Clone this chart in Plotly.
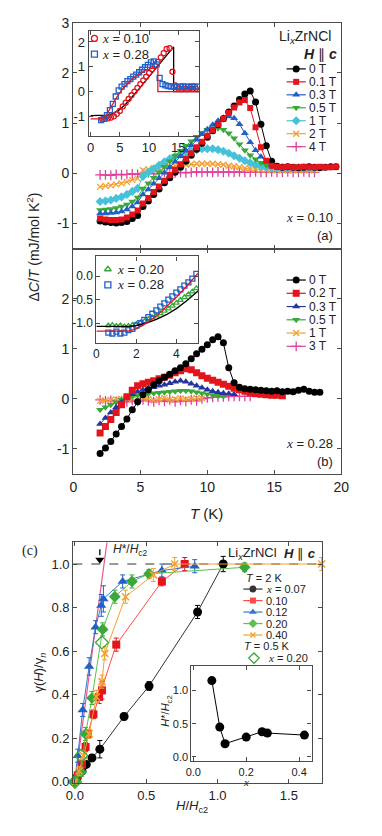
import plotly.graph_objects as go

W, H = 382, 836
SANS = "Liberation Sans, Arial, sans-serif"
SERIF = "Liberation Serif"
INK = "#222222"
FRAME = "#4a4a4a"

C_BLK = "#000000"
C_RED = "#e3141c"
C_BLU = "#2060c8"
C_NAVY = "#26359e"
C_GRN = "#38a838"
C_CYA = "#45c2da"
C_ORA = "#f4a030"
C_MAG = "#e0409c"
C_PINK = "#ea5a80"

# ---------------- panel (a): x = 0.10, dC/T vs T (K)
T_A = [2.0, 2.4, 2.8, 3.2, 3.6, 4.0, 4.4, 4.8, 5.2, 5.6, 6.0, 6.4, 6.8, 7.2, 7.6,
       8.0, 8.4, 8.8, 9.2, 9.6, 10.0, 10.4, 10.8, 11.2, 11.6, 12.0, 12.4, 12.8,
       13.2, 13.6, 14.0, 14.4, 14.8, 15.2, 15.6, 16.0, 16.4, 16.8, 17.2, 17.6,
       18.0, 18.4, 18.8, 19.2, 19.6]
A_0T = [-0.95, -0.97, -0.98, -0.99, -0.98, -0.96, -0.90, -0.84, -0.66, -0.55,
        -0.42, -0.31, -0.19, -0.09, 0.02, 0.12, 0.24, 0.36, 0.48, 0.60,
        0.72, 0.85, 0.97, 1.09, 1.22, 1.34, 1.47, 1.58, 1.64, 1.42,
        0.98, 0.55, 0.24, 0.14, 0.12, 0.13, 0.12, 0.11, 0.12, 0.13,
        0.12, 0.11, 0.12, 0.13, 0.13]
A_01T = [-0.90, -0.92, -0.93, -0.93, -0.92, -0.88, -0.82, -0.74, -0.60, -0.49,
         -0.37, -0.26, -0.15, -0.04, 0.07, 0.18, 0.29, 0.40, 0.52, 0.63,
         0.75, 0.86, 0.98, 1.09, 1.20, 1.31, 1.41, 1.46, 1.30, 0.92,
         0.52, 0.25, 0.15, 0.13, 0.12, 0.13, 0.12, 0.12, 0.13, 0.12,
         0.12, 0.13, 0.12, 0.12, 0.13]
A_03T = [-0.80, -0.80, -0.79, -0.78, -0.76, -0.72, -0.66, -0.58, -0.42, -0.32,
         -0.21, -0.10, 0.01, 0.12, 0.23, 0.34, 0.45, 0.56, 0.67, 0.78,
         0.88, 0.97, 1.05, 1.11, 1.13, 1.10, 0.98, 0.80, 0.62, 0.46,
         0.33, 0.23, 0.17, 0.14, 0.13, 0.12, 0.12, 0.13, 0.12, 0.12, 0.12]
A_05T = [-0.73, -0.72, -0.71, -0.69, -0.66, -0.62, -0.56, -0.48, -0.30, -0.20,
         -0.09, 0.02, 0.13, 0.24, 0.35, 0.45, 0.55, 0.64, 0.73, 0.81,
         0.87, 0.90, 0.90, 0.87, 0.80, 0.70, 0.58, 0.46, 0.36, 0.28,
         0.21, 0.16, 0.14, 0.13, 0.12, 0.12, 0.12, 0.12, 0.12, 0.12, 0.12]
A_1T = [-0.56, -0.55, -0.53, -0.50, -0.47, -0.42, -0.36, -0.30, -0.06, 0.02,
        0.09, 0.16, 0.23, 0.29, 0.34, 0.38, 0.42, 0.45, 0.47, 0.49,
        0.49, 0.49, 0.47, 0.44, 0.40, 0.35, 0.30, 0.25, 0.21, 0.17,
        0.14, 0.12, 0.11, 0.10, 0.10, 0.10, 0.10, 0.10, 0.10, 0.10, 0.10]
A_2T = [-0.27, -0.25, -0.24, -0.22, -0.20, -0.17, -0.13, -0.10, 0.06, 0.08,
        0.10, 0.11, 0.12, 0.13, 0.15, 0.16, 0.17, 0.18, 0.19, 0.19,
        0.19, 0.19, 0.18, 0.17, 0.15, 0.14, 0.12, 0.10, 0.09, 0.08,
        0.07, 0.07, 0.06, 0.06, 0.06, 0.06, 0.06, 0.06, 0.06, 0.06, 0.06]
A_4T = [-0.03, -0.03, -0.04, -0.02, -0.03, -0.02, -0.01, -0.02, 0.00, 0.01,
        -0.01, 0.00, 0.02, 0.00, 0.01, 0.02, 0.01, 0.02, 0.03, 0.02,
        0.03, 0.02, 0.03, 0.02, 0.03, 0.02, 0.03, 0.02, 0.02, 0.03,
        0.02, 0.02, 0.03, 0.02, 0.02, 0.03, 0.02, 0.02, 0.03, 0.02, 0.02]

# inset (a): zero-field data of two samples with fits
TI_A10 = [2.0, 2.5, 3.0, 3.5, 4.0, 4.5, 5.0, 5.5, 6.0, 6.5, 7.0, 7.5, 8.0, 8.5,
          9.0, 9.5, 10.0, 10.5, 11.0, 11.5, 12.0, 12.5, 13.0, 13.5, 14.0, 14.5,
          15.0, 15.5, 16.0, 16.5, 17.0, 17.5, 18.0]
I_A10 = [-1.12, -1.10, -1.08, -1.05, -1.00, -0.90, -0.78, -0.60, -0.45, -0.30,
         -0.15, 0.00, 0.15, 0.30, 0.45, 0.60, 0.75, 0.90, 1.05, 1.20,
         1.38, 1.55, 1.72, 1.75, 0.80, 0.25, 0.12, 0.10, 0.11, 0.10,
         0.12, 0.11, 0.12]
TI_A28 = [1.8, 2.3, 2.8, 3.3, 3.8, 4.3, 4.8, 5.3, 5.8, 6.3, 6.8, 7.3, 7.8, 8.3,
          8.8, 9.3, 9.8, 10.3, 10.8, 11.3, 11.8, 12.3, 12.8, 13.3, 13.8, 14.3,
          14.8, 15.3, 15.8, 16.3, 16.8, 17.3, 17.8, 18.3]
I_A28 = [-1.15, -1.10, -0.95, -0.75, -0.50, -0.20, 0.05, 0.20, 0.30, 0.42,
         0.50, 0.60, 0.68, 0.78, 0.88, 0.98, 1.08, 1.18, 1.22, 1.10,
         0.55, 0.30, 0.25, 0.22, 0.20, 0.21, 0.19, 0.20, 0.21, 0.20,
         0.19, 0.21, 0.20, 0.20]
FIT_A_BLK_T = [0.0, 2.0, 2.9, 3.9, 4.9, 5.9, 6.9, 7.9, 9.0, 10.0, 11.1, 12.2, 13.2, 14.2, 14.2, 18.6]
FIT_A_BLK_Y = [-0.97, -0.97, -0.95, -0.88, -0.74, -0.53, -0.28, 0.0, 0.32, 0.60, 0.91, 1.23, 1.51, 1.80, 0.0, 0.0]
FIT_A_RED_T = [0.0, 1.8, 2.5, 3.5, 4.5, 5.5, 6.5, 7.5, 8.5, 9.5, 10.5, 11.5, 11.5, 18.6]
FIT_A_RED_Y = [-1.10, -1.10, -1.02, -0.62, -0.22, 0.12, 0.38, 0.58, 0.74, 0.86, 0.94, 0.98, 0.0, 0.0]

# ---------------- panel (b): x = 0.28
T_B = T_A[:42]
B_0T = [-1.09, -0.98, -0.85, -0.70, -0.55, -0.40, -0.22, -0.06, 0.08, 0.18,
        0.28, 0.36, 0.43, 0.49, 0.56, 0.62, 0.70, 0.80, 0.90, 0.99,
        1.08, 1.18, 1.24, 1.12, 0.62, 0.32, 0.23, 0.20, 0.19, 0.18,
        0.17, 0.16, 0.15, 0.16, 0.14, 0.15, 0.14, 0.17, 0.19, 0.15,
        0.13, 0.13]
B_02T = [-0.68, -0.55, -0.41, -0.27, -0.12, 0.04, 0.17, 0.26, 0.30, 0.33,
         0.36, 0.40, 0.43, 0.47, 0.52, 0.56, 0.60, 0.58, 0.52, 0.46,
         0.41, 0.37, 0.33, 0.29, 0.25, 0.21, 0.18, 0.15, 0.12, 0.10,
         0.09, 0.08, 0.07, 0.07, 0.06]
B_03T = [-0.50, -0.38, -0.27, -0.17, -0.07, 0.02, 0.09, 0.14, 0.18, 0.21,
         0.23, 0.26, 0.28, 0.31, 0.34, 0.36, 0.34, 0.30, 0.26, 0.22,
         0.18, 0.15, 0.13, 0.11, 0.10, 0.09]
B_05T = [-0.22, -0.17, -0.12, -0.07, -0.02, 0.02, 0.05, 0.07, 0.09, 0.10,
         0.11, 0.12, 0.13, 0.14, 0.15, 0.16, 0.16, 0.15, 0.13, 0.11,
         0.09, 0.07, 0.06, 0.05]
B_1T = [-0.04, -0.03, -0.02, -0.01, 0.00, 0.01, 0.00, -0.02, 0.01, 0.00,
        -0.03, -0.01, 0.02, -0.02, 0.00, 0.01, -0.01, 0.00, 0.02, 0.01]
B_3T = [-0.02, -0.04, -0.03, -0.05, -0.04, -0.06, -0.03, -0.05, -0.02, -0.04,
        -0.06, -0.03, -0.05, -0.02, -0.06, -0.03, -0.05, -0.02, -0.04, 0.00,
        0.02, 0.03, 0.04, 0.04, 0.05, 0.05, 0.05, 0.05, 0.05]

# inset (b): low-T part, x = 0.20 and x = 0.28
TI_B = [0.6, 0.8, 1.0, 1.2, 1.4, 1.6, 1.8, 2.0, 2.2, 2.4, 2.6, 2.8, 3.0, 3.2,
        3.4, 3.6, 3.8, 4.0, 4.2, 4.4, 4.6, 4.8, 5.0]
I_B20 = [-1.05, -1.04, -1.06, -1.05, -1.07, -1.06, -1.04, -1.02, -0.99, -0.96,
         -0.92, -0.88, -0.84, -0.79, -0.74, -0.69, -0.63, -0.57, -0.51, -0.45,
         -0.39, -0.33, -0.26]
I_B28 = [-1.20, -1.22, -1.18, -1.22, -1.20, -1.15, -1.12, -1.05, -1.00, -0.93,
         -0.87, -0.80, -0.73, -0.65, -0.58, -0.50, -0.43, -0.35, -0.28, -0.20,
         -0.13, -0.05, 0.05]
FIT_B_T = [0.0, 1.6, 2.0, 2.5, 3.0, 3.5, 4.0, 4.5, 5.1]
FIT_B_BLK = [-1.07, -1.07, -1.05, -1.00, -0.92, -0.82, -0.69, -0.53, -0.31]
FIT_B_RED = [-1.17, -1.17, -1.12, -1.00, -0.85, -0.66, -0.45, -0.22, 0.07]

# ---------------- panel (c): gamma(H)/gamma_n vs H/Hc2
C07_X = [0.0, 0.015, 0.05, 0.08, 0.12, 0.175, 0.345, 0.52, 0.86, 1.04]
C07_Y = [0.0, 0.02, 0.05, 0.08, 0.11, 0.15, 0.30, 0.44, 0.78, 1.0]
C07_E = [0.005, 0.01, 0.01, 0.01, 0.015, 0.04, 0.015, 0.02, 0.03, 0.035]
C10_X = [0.02, 0.05, 0.075, 0.09, 0.13, 0.17, 0.19, 0.29, 0.61, 0.77]
C10_Y = [0.03, 0.08, 0.16, 0.22, 0.31, 0.39, 0.42, 0.63, 0.92, 1.0]
C10_E = [0.01, 0.02, 0.02, 0.02, 0.02, 0.03, 0.04, 0.03, 0.02, 0.03]
C12_X = [0.0, 0.02, 0.055, 0.10, 0.145, 0.185, 0.20, 0.335, 0.61, 0.84]
C12_Y = [0.0, 0.12, 0.33, 0.53, 0.71, 0.81, 0.84, 0.92, 0.97, 0.99]
C12_E = [0.0, 0.03, 0.03, 0.04, 0.03, 0.05, 0.06, 0.03, 0.03, 0.03]
C20_X = [0.0, 0.045, 0.075, 0.12, 0.195, 0.28, 0.40, 0.52, 1.19]
C20_Y = [0.0, 0.045, 0.22, 0.385, 0.70, 0.85, 0.92, 0.955, 0.985]
C20_E = [0.0, 0.02, 0.03, 0.03, 0.03, 0.03, 0.03, 0.02, 0.02]
C40_X = [0.0, 0.03, 0.06, 0.10, 0.15, 0.19, 0.21, 0.355, 0.55, 0.70, 1.73]
C40_Y = [0.0, 0.05, 0.12, 0.22, 0.39, 0.46, 0.59, 0.85, 0.95, 1.0, 1.0]
C40_E = [0.0, 0.02, 0.02, 0.02, 0.03, 0.03, 0.03, 0.03, 0.03, 0.03, 0.03]
C20L_X = [0.0, 0.045, 0.19]      # x = 0.20 at T = 0.5 K
C20L_Y = [0.0, 0.12, 0.64]
FIT_C_X = [0.0, 0.225]
FIT_C_Y = [0.0, 1.10]
HSTAR_X = [0.175]
HSTAR_Y = [1.02]
# inset (c): H*/Hc2 vs x
INS_X = [0.07, 0.10, 0.12, 0.20, 0.26, 0.28, 0.42]
INS_Y = [1.15, 0.45, 0.20, 0.30, 0.38, 0.36, 0.33]


def xd(p0, p1):
    return [p0 / W, p1 / W]


def yd(p0, p1):
    return [1 - p1 / H, 1 - p0 / H]


def axis(domain, rng, tickvals, anchor, ticktext=None, labels=True, size=14):
    return dict(domain=domain, range=rng, tickvals=tickvals, ticktext=ticktext,
                showticklabels=labels, ticks="inside", ticklen=4, tickwidth=1,
                tickcolor=FRAME, showline=True, linecolor=FRAME, linewidth=1.2,
                mirror="allticks", showgrid=False, zeroline=False, anchor=anchor,
                tickfont=dict(family=SANS, size=size, color=INK), fixedrange=True)


fig = go.Figure()


def series(x, y, ax, color, symbol, size, mode="lines+markers", lw=1.0, err=None, clip=True):
    thin = symbol in ("x-thin", "cross-thin") or symbol.endswith("-open")
    marker = dict(symbol=symbol, size=size, color=color,
                  line=dict(width=1.3 if thin else 0, color=color))
    tr = go.Scatter(x=x, y=y, mode=mode, xaxis="x" + ax, yaxis="y" + ax,
                    marker=marker, line=dict(color=color, width=lw),
                    cliponaxis=clip, hoverinfo="skip")
    if err is not None:
        tr.error_y = dict(type="data", array=err, color=color, thickness=1, width=2.5)
    fig.add_trace(tr)


def key(xm, y, color, symbol, size, half=10, line=True):
    if line:
        fig.add_trace(go.Scatter(x=[xm - half, xm + half], y=[y, y], mode="lines",
                                 xaxis="x7", yaxis="y7", line=dict(color=color, width=1.2),
                                 hoverinfo="skip"))
    thin = symbol in ("x-thin", "cross-thin") or symbol.endswith("-open")
    fig.add_trace(go.Scatter(x=[xm], y=[y], mode="markers", xaxis="x7", yaxis="y7",
                             marker=dict(symbol=symbol, size=size, color=color,
                                         line=dict(width=1.3 if thin else 0, color=color)),
                             hoverinfo="skip"))


ann = []


def txt(px, py, s, size=13, anchor="left", family=SANS, angle=0, color=INK):
    ann.append(dict(x=px, y=py, xref="x7", yref="y7", text=s, showarrow=False,
                    xanchor=anchor, yanchor="middle", textangle=angle,
                    font=dict(family=family, size=size, color=color)))


def xi(val):
    return '<span style="font-family:%s"><i>x</i></span> = %s' % (SERIF, val)


# ---- panel (a)
SER_A = [("0 T", A_0T, C_BLK, "circle", 7), ("0.1 T", A_01T, C_RED, "square", 6),
         ("0.3 T", A_03T, C_BLU, "triangle-up", 7), ("0.5 T", A_05T, C_GRN, "triangle-down", 7),
         ("1 T", A_1T, C_CYA, "diamond", 7), ("2 T", A_2T, C_ORA, "x-thin", 6),
         ("4 T", A_4T, C_MAG, "cross-thin", 7)]
for i in [6, 5, 4, 3, 2, 0, 1]:
    lab, ys, c, sym, sz = SER_A[i]
    series(T_A[:len(ys)], ys, "", c, sym, sz)
for i, (lab, ys, c, sym, sz) in enumerate(SER_A):
    yk = 62 + i * 13.2
    key(301, yk, c, sym, sz)
    txt(312, yk, lab, size=12)

series(FIT_A_BLK_T, FIT_A_BLK_Y, "3", C_BLK, "circle", 1, mode="lines", lw=1.3)
series(TI_A10, I_A10, "3", C_RED, "circle-open", 5, mode="markers")
series(TI_A28, I_A28, "3", C_BLU, "square-open", 5, mode="markers")
series(FIT_A_RED_T, FIT_A_RED_Y, "3", C_RED, "circle", 1, mode="lines", lw=1.3)
key(91, 31, C_RED, "circle-open", 6, line=False)
key(91, 47, C_BLU, "square-open", 6, line=False)
txt(97, 31, xi("0.10"), size=13)
txt(97, 47, xi("0.28"), size=13)

# ---- panel (b)
SER_B = [("0 T", B_0T, C_BLK, "circle", 7), ("0.2 T", B_02T, C_RED, "square", 7),
         ("0.3 T", B_03T, C_NAVY, "triangle-up", 7), ("0.5 T", B_05T, C_GRN, "triangle-down", 7),
         ("1 T", B_1T, C_ORA, "x-thin", 6), ("3 T", B_3T, C_MAG, "cross-thin", 7)]
for i in [5, 4, 3, 2, 1, 0]:
    lab, ys, c, sym, sz = SER_B[i]
    series(T_B[:len(ys)], ys, "2", c, sym, sz)
for i, (lab, ys, c, sym, sz) in enumerate(SER_B):
    yk = 277 + i * 13.5
    key(301, yk, c, sym, sz)
    txt(312, yk, lab, size=12)

series(TI_B, I_B20, "4", C_GRN, "triangle-up-open", 5, mode="markers")
series(TI_B, I_B28, "4", C_BLU, "square-open", 5, mode="markers")
series(FIT_B_T, FIT_B_BLK, "4", C_BLK, "circle", 1, mode="lines", lw=1.3)
series(FIT_B_T, FIT_B_RED, "4", C_RED, "circle", 1, mode="lines", lw=1.3)
key(105, 266, C_GRN, "triangle-up-open", 6, line=False)
key(105, 282, C_BLU, "square-open", 6, line=False)
txt(112, 266, xi("0.20"), size=13)
txt(112, 282, xi("0.28"), size=13)

# ---- panel (c)
series(FIT_C_X, FIT_C_Y, "5", C_PINK, "circle", 1, mode="lines", lw=1.2)
SER_C = [("0.07", C07_X, C07_Y, C07_E, C_BLK, "circle", 9, "#333333"),
         ("0.10", C10_X, C10_Y, C10_E, C_RED, "square", 8, "#ff4a4a"),
         ("0.12", C12_X, C12_Y, C12_E, C_BLU, "triangle-up", 9, "#3a78d0"),
         ("0.20", C20_X, C20_Y, C20_E, C_GRN, "diamond", 9, "#5cc04c"),
         ("0.40", C40_X, C40_Y, C40_E, C_ORA, "x-thin", 7, "#f4a030")]
for lab, xs_, ys, es, c, sym, sz, lc in SER_C:
    fig.add_trace(go.Scatter(x=xs_, y=ys, mode="lines+markers", xaxis="x5", yaxis="y5",
                             marker=dict(symbol=sym, size=sz, color=c,
                                         line=dict(width=1.6 if sym == "x-thin" else 0, color=c)),
                             line=dict(color=lc, width=1),
                             error_y=dict(type="data", array=es, color=c, thickness=1, width=2.5),
                             cliponaxis=False, hoverinfo="skip"))
series(C20L_X, C20L_Y, "5", C_GRN, "diamond-open", 10, mode="markers", clip=False)
series(HSTAR_X, HSTAR_Y, "5", C_BLK, "triangle-down", 8, mode="markers", clip=False)
ann.append(dict(x=HSTAR_X[0], y=HSTAR_Y[0] + 0.02, xref="x5", yref="y5", ax=0, ay=-16,
                showarrow=True, arrowhead=0, arrowwidth=1.3, arrowcolor=C_BLK, text=" "))

for i, (lab, xs_, ys, es, c, sym, sz, lc) in enumerate(SER_C):
    yk = 591.7 + i * 11.7
    key(256, yk, lc, sym, sz - 2)
    txt(268, yk, xi(lab) if i == 0 else lab, size=11)
key(257, 662, C_GRN, "diamond-open", 8, line=False)
txt(270, 662, xi("0.20"), size=11)
txt(247, 580, "<i>T</i> = 2 K", size=11)
txt(245, 650, "<i>T</i> = 0.5 K", size=11)

series(INS_X, INS_Y, "6", C_BLK, "circle", 9, lw=1.0, clip=False)

# ---- text
txt(310, 30, "Li<sub><i>x</i></sub>ZrNCl", size=14, anchor="center")
txt(326, 47, "<b><i>H</i></b> ∥ <b><i>c</i></b>", size=14, anchor="center")
txt(341, 213, xi("0.10"), size=13, anchor="right")
txt(341, 232, "(a)", size=13, anchor="right")
txt(341, 443, xi("0.28"), size=13, anchor="right")
txt(341, 462, "(b)", size=13, anchor="right")
txt(208, 515, "<i>T</i> (K)", size=15, anchor="center")
txt(27, 243, "Δ<i>C</i>/<i>T</i> (mJ/mol K<sup>2</sup>)", size=14, anchor="center", angle=-90)
txt(24, 553, "(c)", size=14, anchor="center", family=SERIF)
txt(108, 552, "<i>H</i>*/<i>H</i><sub>c2</sub>", size=12)
txt(256, 555, "Li<sub><i>x</i></sub>ZrNCl", size=13, anchor="center")
txt(305, 555, "<b><i>H</i></b> ∥ <b><i>c</i></b>", size=13, anchor="center")
txt(34, 677, "γ(<i>H</i>)/γ<sub><i>n</i></sub>", size=13, anchor="center", angle=-90)
txt(193, 813, "<i>H</i>/<i>H</i><sub>c2</sub>", size=13, anchor="center")
txt(166, 716, "<i>H</i>*/<i>H</i><sub>c2</sub>", size=11, anchor="center", angle=-90)
txt(249, 788, '<span style="font-family:%s"><i>x</i></span>' % SERIF, size=11, anchor="center")

shapes = [dict(type="line", xref="x5 domain", yref="y5", x0=0, x1=1, y0=1.0, y1=1.0,
               line=dict(color="#333333", width=1, dash="dash"), layer="below")]

fig.update_layout(
    width=W, height=H, margin=dict(l=0, r=0, t=0, b=0),
    paper_bgcolor="white", plot_bgcolor="rgba(0,0,0,0)", showlegend=False,
    xaxis=axis(xd(69, 348), [0, 20], [0, 5, 10, 15, 20], "y", labels=False),
    yaxis=axis(yd(15, 245), [-1.5, 3.001], [-1, 0, 1, 2, 3], "x", ticktext=["-1", "0", "1", "2", "3"]),
    xaxis2=axis(xd(69, 348), [0, 20.001], [0, 5, 10, 15, 20], "y2"),
    yaxis2=axis(yd(245, 474.5), [-1.5, 3], [-1, 0, 1, 2], "x2", ticktext=["-1", "0", "1", "2"]),
    xaxis3=axis(xd(85, 200), [-0.33, 18.56], [0, 5, 10, 15], "y3", size=13),
    yaxis3=axis(yd(23, 130), [-1.78, 2.46], [-1, 0, 1, 2], "x3", ticktext=["-1", "0", "1", "2"], size=13),
    xaxis4=axis(xd(93, 199), [0, 5.09], [0, 2, 4], "y4", size=12),
    yaxis4=axis(yd(253, 341), [-1.42, 0.42], [-1.0, -0.5, 0.0], "x4", ticktext=["-1.0", "-0.5", "0.0"], size=12),
    xaxis5=axis(xd(69, 328), [-0.011, 1.733], [0, 0.5, 1.0, 1.5], "y5", ticktext=["0.0", "0.5", "1.0", "1.5"], size=13),
    yaxis5=axis(yd(544, 789), [-0.0045, 1.1], [0, 0.2, 0.4, 0.6, 0.8, 1.0], "x5",
                ticktext=["0.0", "0.2", "0.4", "0.6", "0.8", "1.0"], size=13),
    xaxis6=axis(xd(192, 317), [-0.007, 0.447], [0, 0.2, 0.4], "y6", ticktext=["0.0", "0.2", "0.4"], size=11),
    yaxis6=axis(yd(670, 767), [-0.064, 1.37], [0, 0.5, 1.0], "x6", ticktext=["0.0", "0.5", "1.0"], size=11),
    xaxis7=dict(domain=[0, 1], range=[0, W], visible=False, anchor="y7", fixedrange=True),
    yaxis7=dict(domain=[0, 1], range=[H, 0], visible=False, anchor="x7", fixedrange=True),
    annotations=ann, shapes=shapes,
)
fig.update_xaxes(ticklabelstandoff=0, selector=dict(anchor="y6"))

fig.write_html("out.html", config={"displayModeBar": False},
               post_script="document.body.style.margin='0px';")
